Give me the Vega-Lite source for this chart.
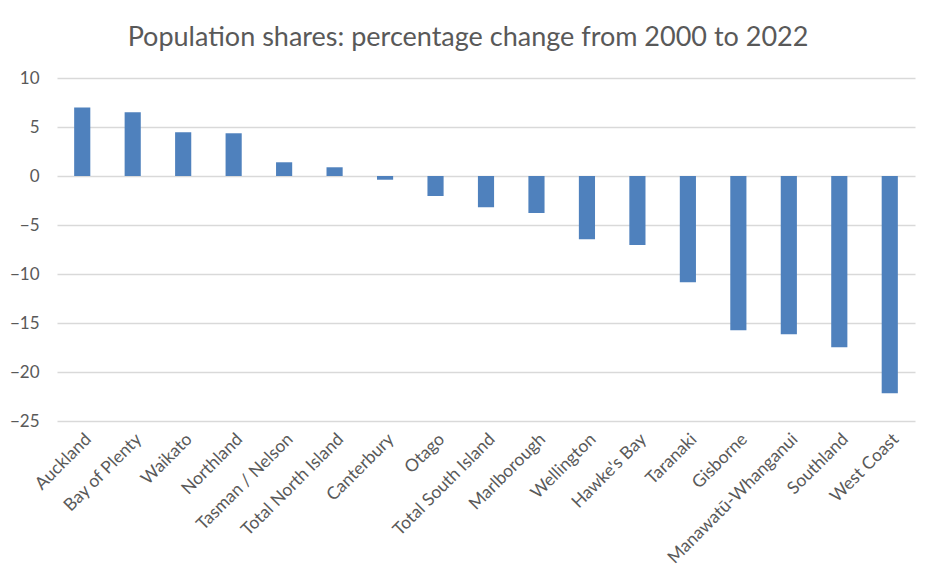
{
  "$schema": "https://vega.github.io/schema/vega-lite/v6.json",
  "autosize": {"type": "none"},
  "width": 858,
  "height": 343,
  "padding": {"left": 57, "top": 78, "right": 22, "bottom": 167},
  "background": "white",
  "title": {
    "text": "Population shares: percentage change from 2000 to 2022",
    "font": "Lato",
    "fontSize": 27,
    "fontWeight": "normal",
    "color": "#595959",
    "anchor": "middle",
    "dx": -18,
    "offset": 17
  },
  "data": {
    "values": [
      {"region": "Auckland", "change": 7.0},
      {"region": "Bay of Plenty", "change": 6.5},
      {"region": "Waikato", "change": 4.46},
      {"region": "Northland", "change": 4.36},
      {"region": "Tasman / Nelson", "change": 1.4},
      {"region": "Total North Island", "change": 0.89},
      {"region": "Canterbury", "change": -0.38},
      {"region": "Otago", "change": -2.04},
      {"region": "Total South Island", "change": -3.2},
      {"region": "Marlborough", "change": -3.77},
      {"region": "Wellington", "change": -6.46},
      {"region": "Hawke's Bay", "change": -7.04},
      {"region": "Taranaki", "change": -10.85},
      {"region": "Gisborne", "change": -15.74},
      {"region": "Manawatū-Whanganui", "change": -16.15},
      {"region": "Southland", "change": -17.47},
      {"region": "West Coast", "change": -22.17}
    ]
  },
  "mark": {"type": "bar", "color": "#4F81BD"},
  "encoding": {
    "x": {
      "field": "region",
      "type": "nominal",
      "sort": null,
      "scale": {"paddingInner": 0.68, "paddingOuter": 0.34},
      "axis": {
        "title": null,
        "domain": false,
        "ticks": false,
        "labelAngle": -45,
        "labelFont": "Lato",
        "labelFontSize": 17.5,
        "labelColor": "#595959",
        "labelPadding": 9
      }
    },
    "y": {
      "field": "change",
      "type": "quantitative",
      "scale": {"domain": [-25, 10], "nice": false, "zero": false},
      "axis": {
        "title": null,
        "values": [-25, -20, -15, -10, -5, 0, 5, 10],
        "domain": false,
        "ticks": false,
        "grid": true,
        "gridColor": "#D9D9D9",
        "gridWidth": 1.3,
        "labelFont": "Lato",
        "labelFontSize": 17,
        "labelColor": "#595959",
        "labelPadding": 18
      }
    }
  },
  "config": {"view": {"stroke": null}}
}
